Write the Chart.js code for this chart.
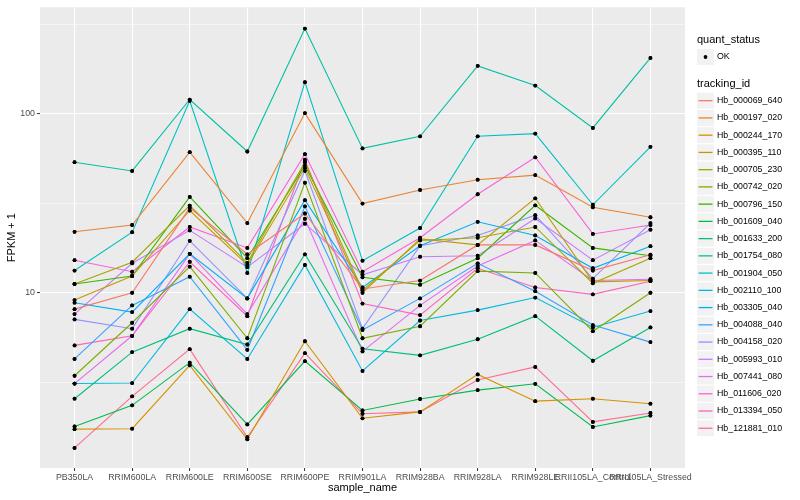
<!DOCTYPE html>
<html>
<head>
<meta charset="utf-8">
<script src="https://cdn.jsdelivr.net/npm/chart.js@4.4.1/dist/chart.umd.min.js"></script>
<style>
  html, body { margin: 0; padding: 0; background: #fff; }
</style>
</head>
<body>
<canvas id="chart" width="800" height="500"></canvas>
<script>
const samples = ["PB350LA", "RRIM600LA", "RRIM600LE", "RRIM600SE", "RRIM600PE", "RRIM901LA",
  "RRIM928BA", "RRIM928LA", "RRIM928LE", "RRII105LA_Control", "RRII105LA_Stressed"];

// FPKM + 1, one array per gene, in sample order
const hb000069_640 = [8.1, 10.0, 29.8, 16.4, 27.7, 10.5, 11.7, 18.5, 18.5, 13.3, 16.3];
const hb000197_020 = [21.9, 23.9, 61, 24.5, 100.8, 31.5, 37.5, 42.8, 45.4, 30, 26.4];
const hb000244_170 = [1.73, 1.74, 3.93, 1.52, 5.36, 1.99, 2.16, 3.5, 2.48, 2.56, 2.4];
const hb000395_110 = [9.1, 12.4, 28.8, 14.3, 49.7, 10.0, 20.0, 18.5, 33.7, 11.5, 11.7];
const hb000705_230 = [11.2, 14.8, 30.7, 14.7, 53.6, 10.3, 19.6, 20.3, 23.3, 11.3, 15.6];
const hb000742_020 = [3.44, 6.8, 14.0, 5.57, 41.2, 5.57, 6.5, 13.2, 12.9, 6.1, 10.0];
const hb000796_150 = [11.2, 12.4, 34.3, 15.6, 51.4, 12.2, 11.1, 15.6, 30.8, 17.8, 16.1];
const hb001609_040 = [1.79, 2.35, 4.07, 1.84, 4.15, 2.2, 2.55, 2.86, 3.1, 1.78, 2.06];
const hb001633_200 = [2.56, 4.66, 6.3, 5.14, 16.4, 4.87, 4.47, 5.5, 7.4, 4.17, 6.4];
const hb001754_080 = [53.6, 47.9, 120, 61.5, 299, 64, 74.8, 185, 143.6, 83.3, 205];
const hb001904_050 = [13.3, 21.8, 118, 12.9, 150, 15.1, 23, 74.8, 77.4, 31, 65.3];
const hb002110_100 = [3.11, 3.13, 8.1, 4.27, 14.3, 3.66, 7.0, 8.0, 9.4, 6.4, 7.9];
const hb003305_040 = [8.8, 7.8, 16.5, 9.3, 32.9, 10.7, 18.3, 24.9, 20.9, 13.7, 18.2];
const hb004088_040 = [4.27, 8.5, 12.3, 4.8, 30.4, 6.2, 9.3, 14.6, 10.2, 6.6, 5.3];
const hb004158_020 = [7.1, 6.3, 19.5, 9.3, 48, 6.3, 18.3, 20.9, 27.1, 12.0, 24.5];
const hb005993_010 = [7.6, 14.6, 22.3, 13.9, 24.3, 12.6, 15.9, 16.1, 26, 15.2, 22.5];
const hb007441_080 = [3.11, 5.75, 16.5, 7.6, 25.9, 4.7, 8.5, 14.1, 19.6, 11.7, 11.9];
const hb011606_020 = [15.2, 13.1, 23.3, 17.8, 59.4, 13.1, 20.3, 35.5, 57.1, 21.3, 23.9];
const hb013394_050 = [5.08, 5.75, 14.9, 7.4, 55.3, 8.7, 7.5, 13.7, 10.7, 9.8, 11.6];
const hb121881_010 = [1.36, 2.64, 4.84, 1.56, 4.6, 2.11, 2.16, 3.26, 3.85, 1.9, 2.13];

const trackingIds = ["Hb_000069_640", "Hb_000197_020", "Hb_000244_170", "Hb_000395_110",
  "Hb_000705_230", "Hb_000742_020", "Hb_000796_150", "Hb_001609_040", "Hb_001633_200",
  "Hb_001754_080", "Hb_001904_050", "Hb_002110_100", "Hb_003305_040", "Hb_004088_040",
  "Hb_004158_020", "Hb_005993_010", "Hb_007441_080", "Hb_011606_020", "Hb_013394_050",
  "Hb_121881_010"];
const geneValues = [hb000069_640, hb000197_020, hb000244_170, hb000395_110, hb000705_230,
  hb000742_020, hb000796_150, hb001609_040, hb001633_200, hb001754_080, hb001904_050,
  hb002110_100, hb003305_040, hb004088_040, hb004158_020, hb005993_010, hb007441_080,
  hb011606_020, hb013394_050, hb121881_010];

const yMajorTicks = [10, 100];
const yMinorTicks = [3.162, 31.62, 316.2];

// ggplot default hue palette for 20 levels
const palette = ["#F8766D", "#EA8331", "#D89000", "#C09B00", "#A3A500", "#7CAE00", "#39B600",
  "#00BB4E", "#00BF7D", "#00C1A3", "#00BFC4", "#00BAE0", "#00B0F6", "#35A2FF", "#9590FF",
  "#C77CFF", "#E76BF3", "#FA62DB", "#FF62BC", "#FF6C91"];

const FONT = "'Liberation Sans', Arial, sans-serif";

const datasets = trackingIds.map((id, i) => ({
  label: id,
  data: geneValues[i].map((v, j) => ({ x: j, y: v })),
  borderColor: palette[i],
  backgroundColor: palette[i],
  borderWidth: 1.1,
  pointRadius: 1.9,
  pointBackgroundColor: "#000",
  pointBorderColor: "#000",
  pointBorderWidth: 0,
  tension: 0
}));

const isMajor = v => yMajorTicks.some(m => Math.abs(m - v) < 1e-6);

const panelBg = {
  id: "panelBg",
  beforeDraw(chart) {
    const { ctx, chartArea: a } = chart;
    ctx.save();
    ctx.fillStyle = "#EBEBEB";
    ctx.fillRect(a.left, a.top, a.right - a.left, a.bottom - a.top);
    ctx.restore();
  }
};

// geom_point sits above every geom_line, so redraw the points last
const pointsOnTop = {
  id: "pointsOnTop",
  afterDatasetsDraw(chart) {
    chart.data.datasets.forEach((ds, i) => {
      chart.getDatasetMeta(i).data.forEach(pt => pt.draw(chart.ctx, chart.chartArea));
    });
  }
};

const ggLegend = {
  id: "ggLegend",
  afterDraw(chart) {
    const ctx = chart.ctx;
    const x0 = 697;
    ctx.save();
    ctx.textBaseline = "middle";
    ctx.textAlign = "left";
    ctx.fillStyle = "#000";
    ctx.font = "11px " + FONT;
    ctx.fillText("quant_status", x0, 40);

    ctx.fillStyle = "#F2F2F2";
    ctx.fillRect(x0, 49, 17, 16);
    ctx.fillStyle = "#000";
    ctx.beginPath();
    ctx.arc(x0 + 8.5, 57, 1.9, 0, Math.PI * 2);
    ctx.fill();
    ctx.font = "8.8px " + FONT;
    ctx.fillText("OK", x0 + 20, 57);

    ctx.font = "11px " + FONT;
    ctx.fillText("tracking_id", x0, 84);

    chart.data.datasets.forEach((ds, i) => {
      const cy = 100.7 + i * 17.24;
      ctx.fillStyle = "#F2F2F2";
      ctx.fillRect(x0, cy - 8, 17, 16);
      ctx.strokeStyle = ds.borderColor;
      ctx.lineWidth = 1.3;
      ctx.beginPath();
      ctx.moveTo(x0 + 1.5, cy);
      ctx.lineTo(x0 + 15.5, cy);
      ctx.stroke();
      ctx.fillStyle = "#000";
      ctx.font = "8.8px " + FONT;
      ctx.fillText(ds.label, x0 + 20, cy);
    });
    ctx.restore();
  }
};

new Chart(document.getElementById("chart"), {
  type: "line",
  data: { datasets },
  options: {
    responsive: false,
    animation: false,
    events: [],
    layout: { padding: { top: 5, right: 115, left: 0, bottom: 0 } },
    plugins: { legend: { display: false }, tooltip: { enabled: false } },
    scales: {
      x: {
        type: "linear",
        min: -0.6,
        max: samples.length - 0.4,
        afterBuildTicks: s => { s.ticks = samples.map((c, i) => ({ value: i })); },
        afterFit: s => { s.height = 32; },
        border: { display: false },
        grid: { color: "#FFFFFF", lineWidth: 1.1, tickLength: 3, tickColor: "#333333", tickWidth: 1 },
        ticks: {
          autoSkip: false,
          maxRotation: 0,
          minRotation: 0,
          padding: 1,
          color: "#4D4D4D",
          font: { family: FONT, size: 8.8 },
          callback: v => samples[v]
        },
        title: {
          display: true,
          text: "sample_name",
          color: "#000",
          font: { family: FONT, size: 11 },
          padding: { top: 0, bottom: 5 }
        }
      },
      y: {
        type: "logarithmic",
        min: 1.05,
        max: 393,
        afterBuildTicks: s => {
          s.ticks = yMinorTicks.concat(yMajorTicks).sort((a, b) => a - b).map(v => ({ value: v }));
        },
        afterFit: s => { s.width = 40; },
        border: { display: false },
        grid: {
          color: "#FFFFFF",
          lineWidth: c => (c.tick && isMajor(c.tick.value) ? 1.1 : 0.5),
          tickLength: 3,
          tickWidth: 1,
          tickColor: c => (c.tick && isMajor(c.tick.value) ? "#333333" : "rgba(0,0,0,0)")
        },
        ticks: {
          padding: 2,
          color: "#4D4D4D",
          font: { family: FONT, size: 8.8 },
          callback: v => (isMajor(v) ? String(Math.round(v)) : "")
        },
        title: {
          display: true,
          text: "FPKM + 1",
          color: "#000",
          font: { family: FONT, size: 11 },
          padding: { top: 5, bottom: 0 }
        }
      }
    }
  },
  plugins: [panelBg, pointsOnTop, ggLegend]
});
</script>
</body>
</html>
